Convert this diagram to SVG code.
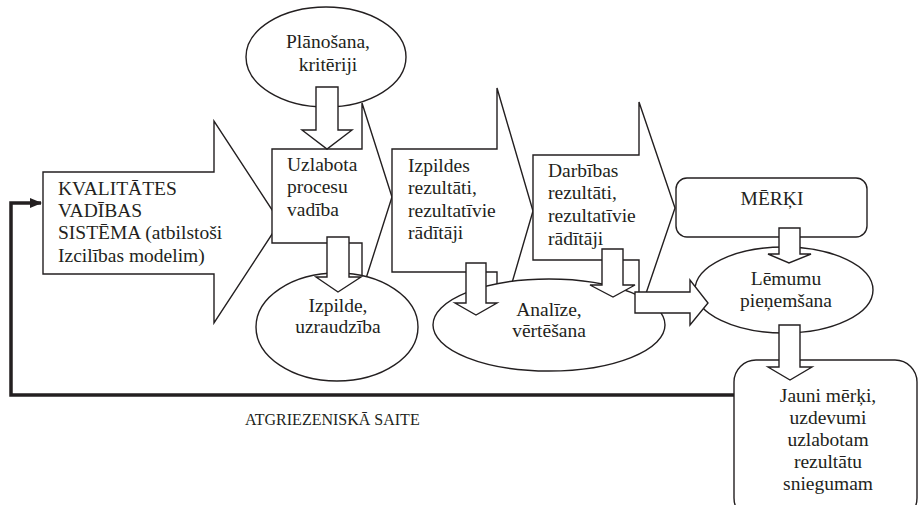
<svg xmlns="http://www.w3.org/2000/svg" width="920" height="505" viewBox="0 0 920 505" font-family="'Liberation Serif', 'Times New Roman', 'DejaVu Serif', serif">
<style>
.s{fill:#fff;stroke:#231f20;stroke-width:1.4;stroke-linejoin:miter}
.t{font-family:'Liberation Serif','Times New Roman','DejaVu Serif',serif;font-size:19.5px;fill:#231f20}
.c{text-anchor:middle}
.fb{fill:none;stroke:#231f20;stroke-width:3.5}
</style>
<defs>
<marker id="ah" markerUnits="userSpaceOnUse" markerWidth="12" markerHeight="10" refX="11" refY="5" orient="auto">
<path d="M0,0 L12,5 L0,10 Z" fill="#231f20"/>
</marker>
</defs>
<rect width="920" height="505" fill="#fff"/>

<g id="connectors">
<path class="fb" d="M734,395 H11 V203 H41" marker-end="url(#ah)"/>
</g>

<g id="kvalitates">
<path class="s" d="M43,172 H214 V121 L280,222 L214,323 V274 H43 Z"/>
<text class="t" x="58" y="195">KVALITĀTES</text>
<text class="t" x="58" y="217">VADĪBAS</text>
<text class="t" x="58" y="239">SISTĒMA (atbilstoši</text>
<text class="t" x="58" y="262">Izcilības modelim)</text>
</g>

<g id="uzlabota">
<path class="s" d="M272,149 H362 V103 L392,197 L362,291 V243 H272 Z"/>
<text class="t" x="287" y="171">Uzlabota</text>
<text class="t" x="287" y="193">procesu</text>
<text class="t" x="287" y="216">vadība</text>
</g>

<g id="izpildes-rezultati">
<path class="s" d="M392,149 H497 V88 L533,211 L497,334 V272 H392 Z"/>
<text class="t" x="408" y="172">Izpildes</text>
<text class="t" x="408" y="194">rezultāti,</text>
<text class="t" x="408" y="217">rezultatīvie</text>
<text class="t" x="408" y="239">rādītāji</text>
</g>

<g id="darbibas-rezultati">
<path class="s" d="M533,155 H639 V102 L675,208 L639,314 V260 H533 Z"/>
<text class="t" x="548" y="177">Darbības</text>
<text class="t" x="548" y="199">rezultāti,</text>
<text class="t" x="548" y="222">rezultatīvie</text>
<text class="t" x="548" y="245">rādītāji</text>
</g>

<g id="planosana">
<ellipse class="s" cx="326" cy="57" rx="80" ry="50"/>
<text class="t c" x="328" y="48">Plānošana,</text>
<text class="t c" x="328" y="71">kritēriji</text>
</g>

<g id="izpilde">
<ellipse class="s" cx="337" cy="327" rx="81" ry="54"/>
<text class="t c" x="338" y="312">Izpilde,</text>
<text class="t c" x="338" y="333">uzraudzība</text>
</g>

<g id="analize">
<ellipse class="s" cx="549" cy="325" rx="116" ry="46"/>
<text class="t c" x="549" y="316">Analīze,</text>
<text class="t c" x="549" y="337">vērtēšana</text>
</g>

<g id="merki">
<rect class="s" x="676" y="178" width="191" height="59" rx="11"/>
<text class="t c" x="772" y="205">MĒRĶI</text>
</g>

<g id="lemumu">
<ellipse class="s" cx="784" cy="290" rx="89" ry="43"/>
<text class="t c" x="786" y="285">Lēmumu</text>
<text class="t c" x="786" y="307">pieņemšana</text>
</g>

<g id="jauni">
<rect class="s" x="734" y="360" width="183" height="160" rx="22"/>
<text class="t c" x="828" y="402">Jauni mērķi,</text>
<text class="t c" x="828" y="424">uzdevumi</text>
<text class="t c" x="828" y="446">uzlabotam</text>
<text class="t c" x="828" y="468">rezultātu</text>
<text class="t c" x="828" y="490">sniegumam</text>
</g>

<g id="block-arrows">
<path class="s" d="M316,87 H338 V130 H352 L327,149 L302,130 H316 Z"/>
<path class="s" d="M327,237 H349 V277 H361 L338,292 L316,277 H327 Z"/>
<path class="s" d="M466,263 H486 V303 H497 L476,315 L455,303 H466 Z"/>
<path class="s" d="M602,249 H623 V285 H635 L613,297 L590,285 H602 Z"/>
<path class="s" d="M635,292 H690 V280 L708,303 L690,325 V313 H635 Z"/>
<path class="s" d="M779,228 H800 V254 H811 L789,263 L768,254 H779 Z"/>
<path class="s" d="M779,325 H800 V367 H812 L790,380 L768,367 H779 Z"/>
</g>

<g id="feedback-label">
<text class="t" x="245" y="425" style="font-size:16px">ATGRIEZENISKĀ SAITE</text>
</g>
</svg>
